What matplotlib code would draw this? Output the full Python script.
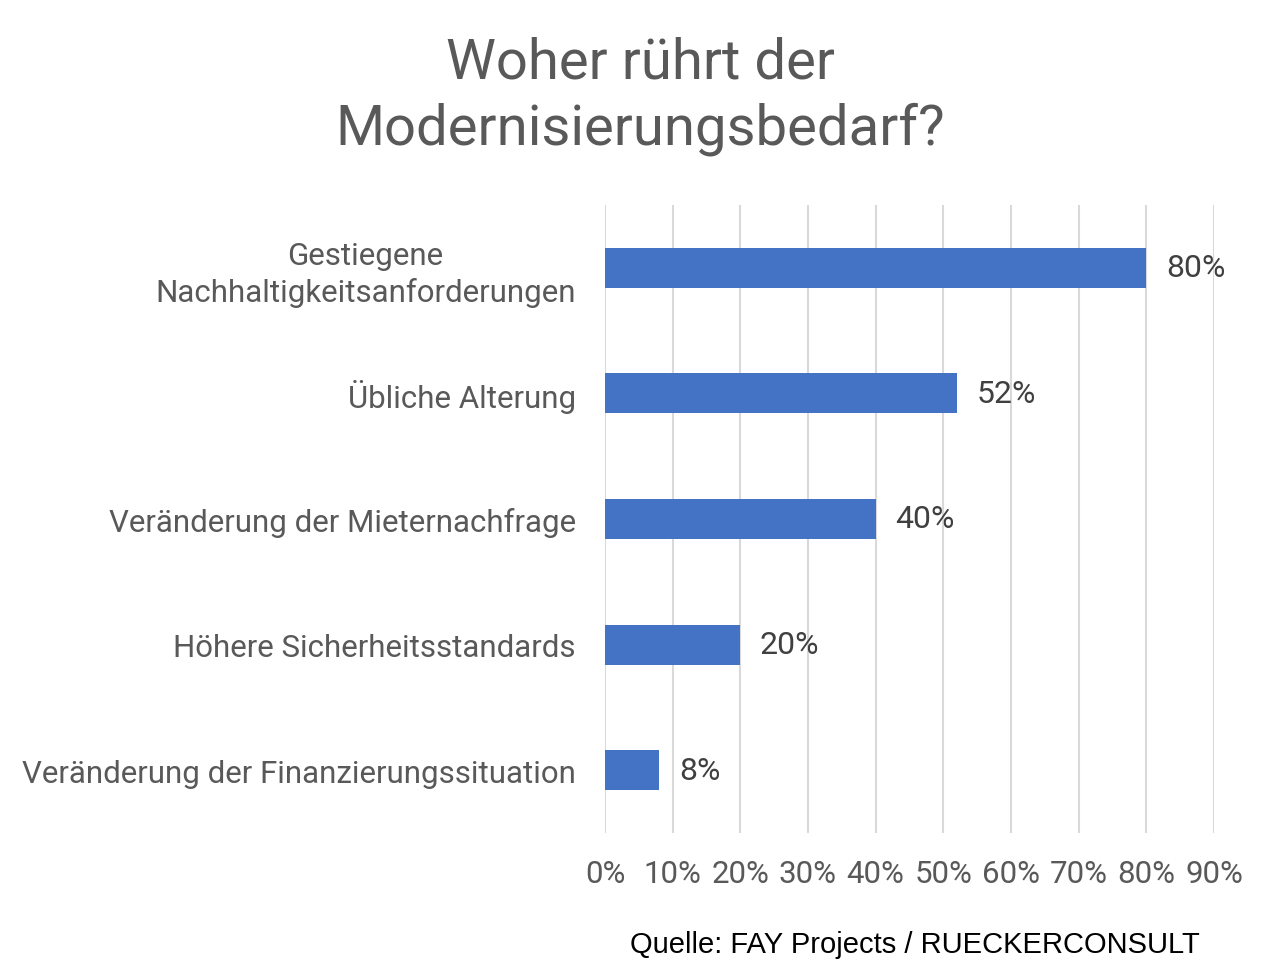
import matplotlib
matplotlib.use("Agg")
import matplotlib.pyplot as plt

categories = [
    "Gestiegene\nNachhaltigkeitsanforderungen",
    "Übliche Alterung",
    "Veränderung der Mieternachfrage",
    "Höhere Sicherheitsstandards",
    "Veränderung der Finanzierungssituation",
]
values = [80, 52, 40, 20, 8]
xticks = [0, 10, 20, 30, 40, 50, 60, 70, 80, 90]

title = "Woher rührt der\nModernisierungsbedarf?"
source = "Quelle: FAY Projects / RUECKERCONSULT"

grey = "#595959"
plt.rcParams["font.family"] = ["Roboto", "DejaVu Sans"]

fig = plt.figure(figsize=(12.8, 9.79), dpi=100)
ax = fig.add_axes([605 / 1280, 1 - 834 / 979, 609 / 1280, 628 / 979])

ypos = list(range(len(categories)))
ax.barh(ypos, values, height=0.32, color="#4472C4", zorder=3)
for y, v in zip(ypos, values):
    ax.text(v + 2.9, y, f"{v}%", va="center", ha="left", fontsize=23, color="#404040")

ax.set_xlim(0, 90)
ax.set_ylim(len(categories) - 0.5, -0.5)
ax.set_xticks(xticks)
ax.set_xticklabels([f"{t}%" for t in xticks])
ax.set_yticks(ypos)
ax.set_yticklabels(categories, linespacing=1.3)
ax.tick_params(axis="both", length=0, labelsize=22.5, labelcolor=grey)
ax.tick_params(axis="x", pad=19)
ax.tick_params(axis="y", pad=21)
for lbl in ax.get_yticklabels():
    lbl.set_horizontalalignment("right")
    lbl.set_multialignment("center")

ax.grid(axis="x", color="#D9D9D9", linewidth=1.5, zorder=0)
for s in ax.spines.values():
    s.set_visible(False)

fig.text(0.5, 1 - 96 / 979, title, ha="center", va="center", fontsize=40.5,
         color=grey, linespacing=1.3)
fig.text(1200 / 1280, 1 - 945 / 979, source, ha="right", va="center", fontsize=21,
         color="black", family=["Liberation Sans", "DejaVu Sans"])

fig.savefig("out.png", dpi=100)
